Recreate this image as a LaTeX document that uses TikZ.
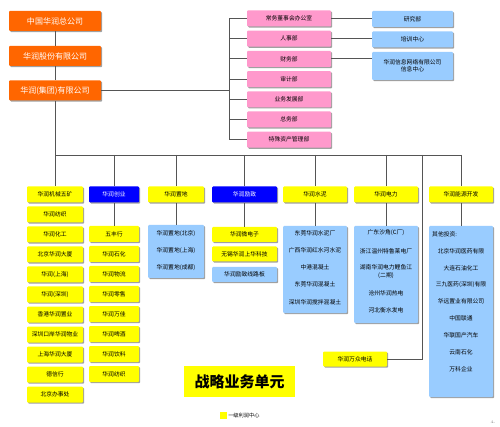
\documentclass[tikz,border=0pt]{standalone}
\usepackage{fontspec}
\newfontfamily\cjk{Noto Sans CJK SC}
\usetikzlibrary{shadows}

\definecolor{hqorange}{HTML}{FF6600}
\definecolor{deptpink}{HTML}{FF99CC}
\definecolor{subblue}{HTML}{99CCFF}
\definecolor{unityellow}{HTML}{FFFF00}
\definecolor{listblue}{HTML}{0000FF}
\definecolor{linegray}{HTML}{555555}
\definecolor{shadowgray}{HTML}{A0A0A0}

\tikzset{
  link/.style={draw=linegray,line width=0.9pt},
  box/.style={rounded corners=1pt,inner sep=0pt,align=center,
    drop shadow={shadow xshift=1.2pt,shadow yshift=-1.2pt,fill=shadowgray,opacity=1},
    font=\cjk\fontsize{5.8}{7}\selectfont},
  hq/.style={box,fill=hqorange,text=white,minimum width=92pt,minimum height=20pt,
    font=\cjk\fontsize{8}{9}\selectfont},
  dept/.style={box,fill=deptpink,minimum width=84pt,minimum height=16pt},
  sub/.style={box,fill=subblue},
  unit/.style={box,fill=unityellow,minimum height=16pt},
  listed/.style={box,fill=listblue,text=white,minimum height=16pt},
  txt/.style={inner sep=0pt,align=center,font=\cjk\fontsize{5.8}{8}\selectfont}
}

\begin{document}
\begin{tikzpicture}[x=1pt,y=-1pt]
\useasboundingbox[fill=white] (0,0) rectangle (500,427);

% head office
\node[hq] (zgzgs) at (55,21) {中国华润总公司};
\node[hq] (gfgs) at (55,56) {华润股份有限公司};
\node[hq] (jtgs) at (55,90.5) {华润(集团)有限公司};

% functional departments
\foreach \t [count=\i] in {常务董事会办公室,人事部,财务部,审计部,业务发展部,总务部,特殊资产管理部}
  \node[dept] (dept\i) at (289,{18.5+20.2*(\i-1)}) {\t};
\node[sub,minimum width=81pt,minimum height=16pt] (yjb) at (412.5,19) {研究部};
\node[sub,minimum width=81pt,minimum height=16pt] (pxzx) at (412.5,39.5) {培训中心};
\node[sub,minimum width=81pt,minimum height=28pt] (xxzx) at (412.5,66) {华润信息网络有限公司\\信息中心};

\coordinate (dtrunk) at (229,90.5);
\draw[link] (zgzgs) -- (gfgs) -- (jtgs);
\draw[link] (jtgs.east) -- (dtrunk);
\draw[link] (dept1.west -| dtrunk) -- (dept7.west -| dtrunk);
\foreach \i in {1,...,7}
  \draw[link] (dept\i.west -| dtrunk) -- (dept\i.west);
\draw[link] (dept1.east) -- (dept1.east -| yjb.west);
\draw[link] (dept2.east) -- (dept2.east -| pxzx.west);
\draw[link] (dept3.east) -- (dept3.east -| xxzx.west);

% strategic business units
\foreach \t [count=\i] in {华润机械五矿,华润纺织,华润化工,北京华润大厦,华润(上海),华润(深圳),香港华润置业,深圳口岸华润物业,上海华润大厦,德信行,北京办事处}
  \node[unit,minimum width=56pt] (a\i) at (55,{194.5+20*(\i-1)}) {\t};

\node[listed,minimum width=50pt] (b0) at (114,194.5) {华润创业};
\foreach \t [count=\i] in {五丰行,华润石化,华润物流,华润零售,华润万佳,华润啤酒,华润饮料,华润纺织}
  \node[unit,minimum width=50pt] (b\i) at (114,{234+20*(\i-1)}) {\t};

\node[unit,minimum width=56pt] (c0) at (176,194.5) {华润置地};
\node[sub,minimum width=56pt,minimum height=53pt] (c1) at (176,251.5) {};
\foreach \t [count=\i] in {华润置地(北京),华润置地(上海),华润置地(成都)}
  \node[txt] (c1t\i) at (176,{234+17*(\i-1)}) {\t};

\node[listed,minimum width=65pt] (d0) at (244.5,194.5) {华润励致};
\node[unit,minimum width=65pt,minimum height=15pt] (d1) at (244.5,234.5) {华润微电子};
\node[unit,minimum width=65pt,minimum height=15pt] (d2) at (244.5,254) {无锡华润上华科技};
\node[sub,minimum width=65pt,minimum height=15pt] (d3) at (244.5,274.5) {华润励致线路板};

\node[unit,minimum width=64pt] (e0) at (315,194.5) {华润水泥};
\node[sub,minimum width=64pt,minimum height=87pt] (e1) at (315,269.5) {};
\foreach \t [count=\i] in {东莞华润水泥厂,广西华润红水河水泥,中港混凝土,东莞华润混凝土,深圳华润搅拌混凝土}
  \node[txt] (e1t\i) at (315,{233+17.25*(\i-1)}) {\t};

\node[unit,minimum width=64pt] (f0) at (386,194.5) {华润电力};
\node[sub,minimum width=64pt,minimum height=97pt] (f1) at (386,274.5) {};
\node[txt] (f1t1) at (386,233) {广东沙角(C厂)};
\node[txt] (f1t2) at (386,251) {浙江温州特鲁莱电厂};
\node[txt] (f1t3) at (386,272) {湖南华润电力鲤鱼江\\(二期)};
\node[txt] (f1t4) at (386,293) {沧州华润热电};
\node[txt] (f1t5) at (386,310) {河北衡水发电};

\node[unit,minimum width=64pt] (g0) at (461,194.5) {华润能源开发};
\node[sub,minimum width=64pt,minimum height=171pt] (g1) at (461,311.5) {};
\node[txt,anchor=west] (g1t0) at (432,234) {其他投资:};
\foreach \t [count=\i] in {北京华润医药有限,大连石油化工,三九医药(深圳)有限,华远置业有限公司,中国联通,华联国产汽车,云南石化,万科企业}
  \node[txt] (g1t\i) at (461,{251+16.9*(\i-1)}) {\t};

\node[unit,minimum width=64pt,minimum height=15pt] (wzdh) at (355,359) {华润万众电话};

% bus
\coordinate (busw) at (55,155);
\coordinate (buse) at (461,155);
\coordinate (wzturn) at (422,359);
\draw[link] (jtgs.south) -- (a1.north);
\draw[link] (busw) -- (buse);
\foreach \n in {b0,c0,d0,e0,f0,g0}
  \draw[link] (\n.north |- busw) -- (\n.north);
\draw[link] (b0) -- (b1);
\draw[link] (c0) -- (c1);
\draw[link] (d0) -- (d1);
\draw[link] (e0) -- (e1);
\draw[link] (f0) -- (f1);
\draw[link] (g0) -- (g1);
\draw[link] (wzturn |- busw) -- (wzturn) -- (wzdh.east);

% title and legend
\node[fill=unityellow,minimum width=111pt,minimum height=31pt,inner sep=0pt,
  font=\cjk\bfseries\fontsize{15}{16}\selectfont] (zlyw) at (239.5,381.5) {战略业务单元};
\node[fill=unityellow,minimum size=7pt,inner sep=0pt] (lgbox) at (223.5,415.5) {};
\node[txt,anchor=west,font=\cjk\fontsize{5.2}{6}\selectfont] (lgtxt) at (lgbox.east) {\,一级利润中心};
\node[inner sep=0pt,text=gray,font=\fontsize{4}{5}\selectfont] (pgno) at (493,422) {4-};
\end{tikzpicture}
\end{document}
